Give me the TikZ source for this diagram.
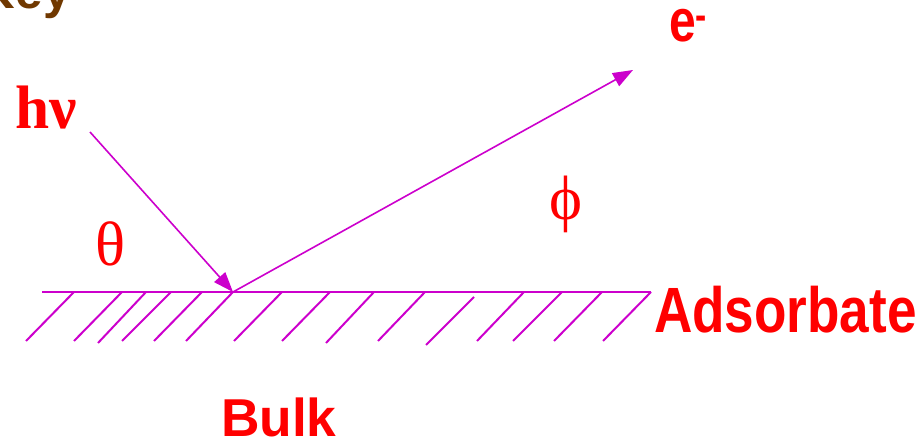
\documentclass[tikz,border=0pt]{standalone}
\usepackage{fontspec}
\setmainfont{Liberation Serif}
\newfontfamily\labelsans{Liberation Sans}
\usepackage{graphicx}
\usetikzlibrary{arrows.meta}
\usetikzlibrary{positioning}
\definecolor{beamcol}{RGB}{204,0,204}
\definecolor{labelred}{RGB}{255,0,0}
\definecolor{titlebrown}{RGB}{112,56,0}

\begin{document}
\begin{tikzpicture}[
x=0.75pt, y=-0.75pt,
every node/.style={inner sep=0, outer sep=0},
beam/.style={draw=beamcol, line width=1.2pt, -{Triangle[length=15pt, width=11pt]}},
hatch/.style={draw=beamcol, line width=1.5pt},
greek/.style={text=labelred, font=\fontsize{47}{50}\selectfont},
tag/.style={text=labelred, font=\labelsans\bfseries\fontsize{40}{44}\selectfont}
]
\useasboundingbox (0,0) rectangle (920,448);
\coordinate (source) at (90,132);
\coordinate (impact) at (233,292);
\coordinate (emit) at (633,70);
\coordinate (surfL) at (42,292);
\coordinate (surfR) at (651,292);
\draw[hatch] (surfL) -- (surfR);
\foreach \xt/\yt/\xb/\yb in {74/292/26/341, 122/292/74/341, 146/292/98/343, 171/292/122/341,
  202/292/154/341, 233/292/186/341, 282/292/234/341, 330/292/282/341, 374/292/326/343,
  425/292/378/341, 474/297/426/345, 524/292/477/341, 562/292/513/341, 602/292/554/341,
  651/292/603/341}
  \draw[hatch] (\xt,\yt) -- (\xb,\yb);
\draw[beam] (source) -- (impact);
\draw[beam] (impact) -- (emit);
\node[greek, font=\bfseries\fontsize{46}{50}\selectfont] (hnu) at (46.5,107.5) {hν};
\node[greek] (theta) at (111,243.5) {θ};
\node[greek] (phi) at (566,204.5) {ϕ};
\node[tag, font=\labelsans\bfseries\fontsize{45}{48}\selectfont, anchor=base west] (electron) at (669,42) {\scalebox{0.8}[1]{e\textsuperscript{-}}};
\node[tag, font=\labelsans\bfseries\fontsize{48}{52}\selectfont, anchor=base west] (adsorbate) at (654,333) {\scalebox{0.83}[1]{Adsorbate}};
\node[tag, anchor=base west] (bulk) at (221,436) {Bulk};
\node[text=titlebrown, font=\labelsans\bfseries\fontsize{37}{40}\selectfont, anchor=base west] (key) at (-20,9) {Key};
\end{tikzpicture}
\end{document}
